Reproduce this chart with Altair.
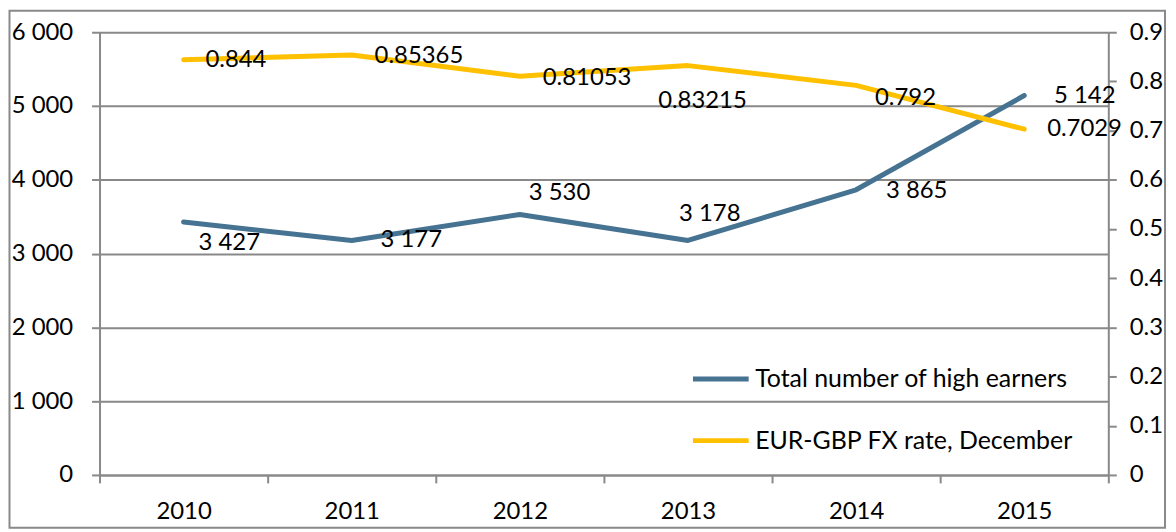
import altair as alt
import pandas as pd

# ---- data ----
years = ["2010", "2011", "2012", "2013", "2014", "2015"]
high_earners = [3427, 3177, 3530, 3178, 3865, 5142]
fx_rate = [0.844, 0.85365, 0.81053, 0.83215, 0.792, 0.7029]
series_names = ["Total number of high earners", "EUR-GBP FX rate, December"]
series_colors = ["#467391", "#FFC000"]
left_ticks = [0, 1000, 2000, 3000, 4000, 5000, 6000]
right_ticks = [0, 0.1, 0.2, 0.3, 0.4, 0.5, 0.6, 0.7, 0.8, 0.9]

earner_labels = [f"{v:,}".replace(",", " ") for v in high_earners]
fx_labels = [str(v) for v in fx_rate]

# ---- label placement (style, left edge dx / vertical centre dy in px) ----
earn_offsets = [(15, 21), (29, 0), (9, -22), (-9, -27), (30, 1), (30, 0)]
fx_offsets = [(22, 0), (23, 1), (23, 2), (-30, 36), (19, 13), (23, 0)]

FONT = "Lato"
GRAY = "#898989"
W, H = 1014, 445
PAD = {"left": 92, "top": 23, "right": 60, "bottom": 56}

df_e = pd.DataFrame({"year": years, "value": high_earners,
                     "label": earner_labels, "series": series_names[0]})
df_f = pd.DataFrame({"year": years, "value": fx_rate,
                     "label": fx_labels, "series": series_names[1]})

x_enc = alt.X("year:O", bandPosition=0.5,
              scale=alt.Scale(type="band", paddingInner=0, paddingOuter=0),
              axis=alt.Axis(title=None, tickBand="extent", labelAngle=0,
                            domainColor=GRAY, domainWidth=2, tickColor=GRAY,
                            tickWidth=2, tickSize=8, labelPadding=17,
                            labelFontSize=24, labelFont=FONT, labelColor="black"))

y_left = alt.Y("value:Q", scale=alt.Scale(domain=[0, 6000], nice=False),
               axis=alt.Axis(title=None, orient="left", values=left_ticks,
                             labelExpr="replace(format(datum.value, ','), ',', ' ')",
                             grid=True, gridColor=GRAY, gridWidth=2,
                             domainColor=GRAY, domainWidth=2, tickColor=GRAY,
                             tickWidth=2, tickSize=8, labelPadding=19,
                             labelFontSize=24, labelFont=FONT, labelColor="black"))

y_right = alt.Y("value:Q", scale=alt.Scale(domain=[0, 0.9], nice=False),
                axis=alt.Axis(title=None, orient="right", values=right_ticks,
                              format=".1~f", grid=False,
                              domainColor=GRAY, domainWidth=2, tickColor=GRAY,
                              tickWidth=2, tickSize=8, labelPadding=13,
                              labelFontSize=24, labelFont=FONT, labelColor="black"))

legend = alt.Legend(title=None, orient="none", legendX=594, legendY=318,
                    symbolType="stroke", symbolSize=3136, symbolStrokeWidth=5,
                    labelFontSize=25, labelFont=FONT, labelColor="black",
                    labelOffset=4, rowPadding=18, padding=0, labelLimit=0)

color_scale = alt.Scale(domain=series_names, range=series_colors)


def line_layer(df, y_enc):
    return alt.Chart(df).mark_line(strokeWidth=5, strokeCap="round",
                                   strokeJoin="round").encode(
        x=x_enc, y=y_enc,
        color=alt.Color("series:N", scale=color_scale, legend=legend))


def label_layers(df, y_enc, offsets):
    out = []
    for yr, (dx, dy) in zip(years, offsets):
        out.append(alt.Chart(df).transform_filter(alt.datum.year == yr)
                   .mark_text(align="left", baseline="middle", dx=dx, dy=dy,
                              font=FONT, fontSize=24, color="black")
                   .encode(x=x_enc, y=y_enc, text="label:N"))
    return out


left = alt.layer(line_layer(df_e, y_left), *label_layers(df_e, y_left, earn_offsets))
right = alt.layer(line_layer(df_f, y_right), *label_layers(df_f, y_right, fx_offsets))

border = alt.Chart(pd.DataFrame({"b": [0]})).mark_rect(
    filled=False, stroke=GRAY, strokeWidth=2).encode(
    x=alt.value(-PAD["left"] + 1.5), x2=alt.value(W + PAD["right"] - 3),
    y=alt.value(-PAD["top"] + 1.5), y2=alt.value(H + PAD["bottom"] - 3))

chart = alt.layer(border, left, right).resolve_scale(y="independent").properties(
    width=W, height=H,
    autosize=alt.AutoSizeParams(type="none"),
    padding=PAD,
    background="white",
).configure_view(stroke=None)

chart.save("out.html", embed_options={"renderer": "svg", "actions": False})
